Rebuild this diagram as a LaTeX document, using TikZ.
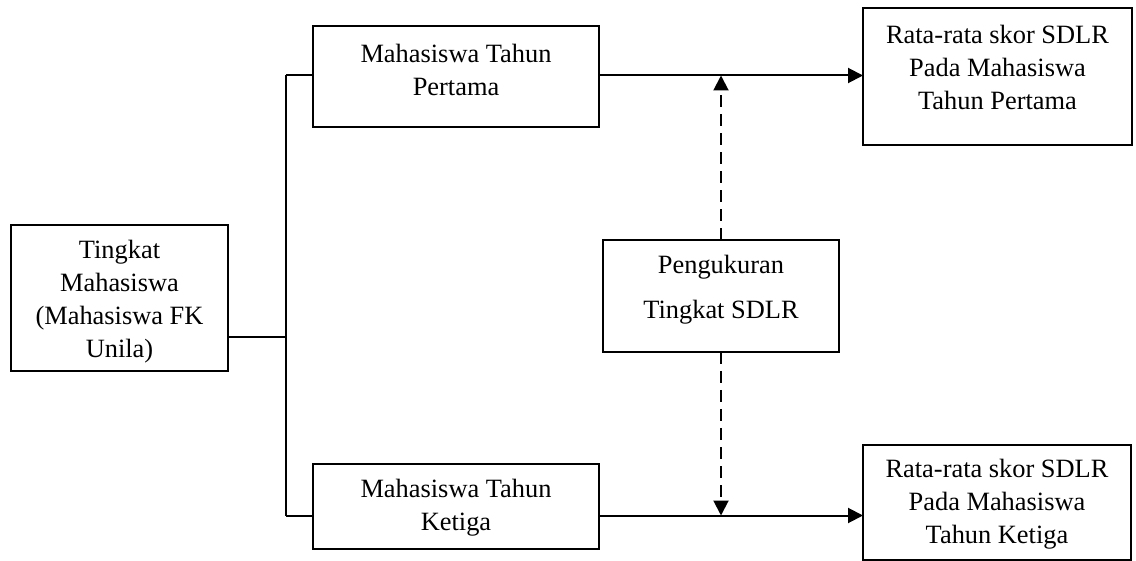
\documentclass[tikz,border=0pt]{standalone}
\usepackage{fontspec}
\setmainfont{Liberation Serif}
\usetikzlibrary{arrows.meta}
\begin{document}
\begin{tikzpicture}[x=0.5pt,y=-0.5pt,
  box/.style={draw,line width=1pt,inner sep=0pt,outer sep=0pt},
  txt/.style={inner sep=0pt,align=center,font=\fontsize{13.2pt}{16.5pt}\selectfont},
  conn/.style={line width=1pt},
  arr/.style={line width=1pt,-{Triangle[length=7.5pt,width=7.5pt]}},
  darr/.style={line width=1pt,dash pattern=on 6pt off 3.5pt,-{Triangle[length=7.5pt,width=7.5pt]}}]
\useasboundingbox (0,0) rectangle (1136,561);
% boxes
\node[box,minimum width=108.5pt,minimum height=73pt] (L) at (119.5,298) {};
\node[box,minimum width=143pt,minimum height=50.5pt] (T) at (456,76.5) {};
\node[box,minimum width=143pt,minimum height=42.5pt] (B) at (456,506.5) {};
\node[box,minimum width=118pt,minimum height=56pt] (C) at (721,296) {};
\node[box,minimum width=134.5pt,minimum height=68.5pt] (RT) at (997.5,76.5) {};
\node[box,minimum width=134pt,minimum height=57.5pt] (RB) at (997,502) {};
% texts
\node[txt] (Lt) at (119.5,302) {Tingkat\\Mahasiswa\\(Mahasiswa FK\\Unila)};
\node[txt] (Tt) at (456,70) {Mahasiswa Tahun\\Pertama};
\node[txt] (Bt) at (456,508) {Mahasiswa Tahun\\Ketiga};
\node[txt,font=\fontsize{13.2pt}{22.5pt}\selectfont] (Ct) at (721,290) {Pengukuran\\Tingkat SDLR};
\node[txt] (RTt) at (997.5,67) {Rata-rata skor SDLR\\Pada Mahasiswa\\Tahun Pertama};
\node[txt] (RBt) at (997,504) {Rata-rata skor SDLR\\Pada Mahasiswa\\Tahun Ketiga};
% junctions
\coordinate (jL) at (286,337);
\coordinate (jT) at (286,75.5);
\coordinate (jB) at (286,515.5);
% connectors
\draw[conn] (L.east |- jL) -- (jL);
\draw[conn] (jT) -- (jB);
\draw[conn] (jT) -- (jT -| T.west);
\draw[conn] (jB) -- (jB -| B.west);
\draw[arr] (T.east |- jT) -- (jT -| RT.west);
\draw[arr] (B.east |- jB) -- (jB -| RB.west);
\draw[darr] (C.north) -- (C.north |- jT);
\draw[darr] (C.south) -- (C.south |- jB);
\end{tikzpicture}
\end{document}
